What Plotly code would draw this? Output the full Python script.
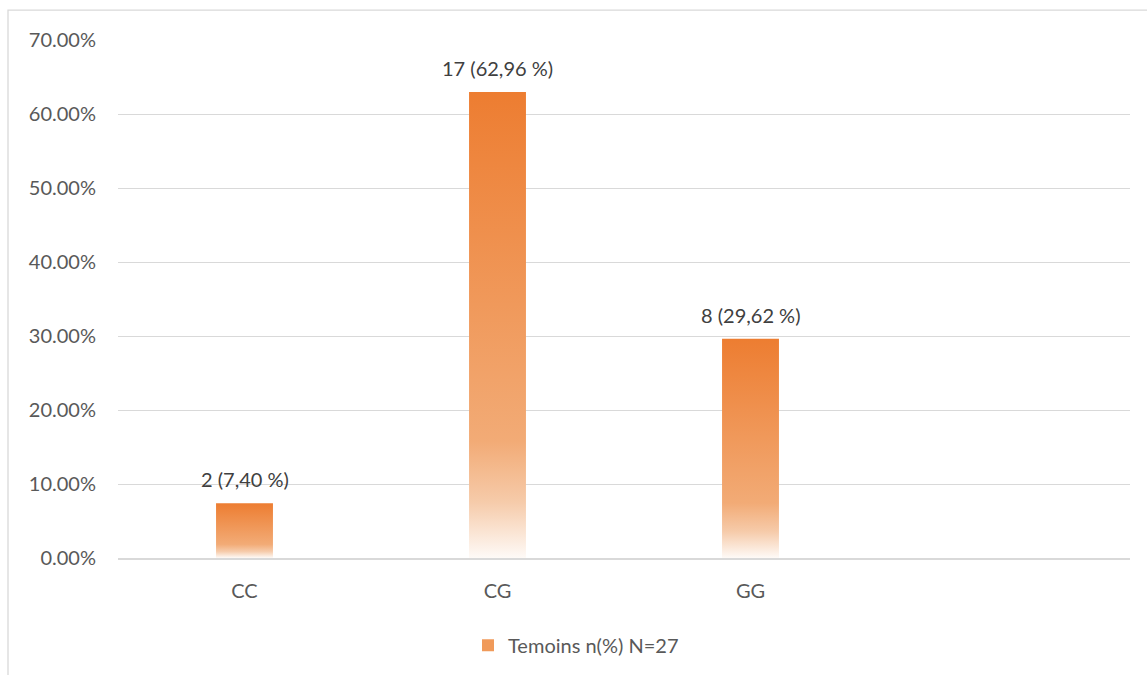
import plotly.graph_objects as go

# Genotype distribution in the control group
genotypes = ["CC", "CG", "GG"]
counts = [2, 17, 8]
percents = [7.40, 62.96, 29.62]
percent_labels = ["7,40", "62,96", "29,62"]
series_name = "Temoins n(%) N=27"

y_ticks = [0, 0.1, 0.2, 0.3, 0.4, 0.5, 0.6, 0.7]

FONT = "Lato, Carlito, Calibri, sans-serif"
ORANGE = "#ED7D31"
GRID = "#D9D9D9"
BAR_WIDTH = 0.225
FS = 20

# Vertical gradient: pale at the base, full orange at the top
gradient = [
    [0.0, "#FEFAF7"],
    [0.12, "#F6CBAA"],
    [0.25, "#F2AB76"],
    [1.0, ORANGE],
]

fig = go.Figure()

# Legend entry for the series (zero-height bar, only the legend swatch shows)
fig.add_trace(go.Bar(
    x=[0], y=[0],
    name=series_name,
    marker=dict(color="#F09A5A", line=dict(width=0)),
    hoverinfo="skip",
    showlegend=True,
))

for i, (g, pct) in enumerate(zip(genotypes, percents)):
    v = pct / 100
    x0, x1 = i - BAR_WIDTH / 2, i + BAR_WIDTH / 2
    fig.add_trace(go.Scatter(
        x=[x0, x1, x1, x0, x0],
        y=[0, 0, v, v, 0],
        mode="lines",
        line=dict(width=0, color=ORANGE),
        fill="toself",
        fillcolor=ORANGE,
        fillgradient=dict(type="vertical", colorscale=gradient),
        name=series_name,
        showlegend=False,
        hoverinfo="skip",
    ))

# Value labels above each bar
annotations = [
    dict(
        x=i, y=pct / 100, xref="x", yref="y",
        text=f"{c} ({lbl} %)",
        showarrow=False,
        yanchor="bottom",
        yshift=10,
        font=dict(family=FONT, size=FS, color="#404040"),
    )
    for i, (c, pct, lbl) in enumerate(zip(counts, percents, percent_labels))
]

fig.update_layout(
    width=1147,
    height=675,
    margin=dict(l=118, r=17, t=40, b=116),
    paper_bgcolor="white",
    plot_bgcolor="white",
    font=dict(family=FONT, size=FS, color="#595959"),
    annotations=annotations,
    xaxis=dict(
        range=[-0.5, 3.5],
        tickmode="array",
        tickvals=list(range(len(genotypes))),
        ticktext=genotypes,
        showgrid=False,
        zeroline=False,
        showline=True,
        linecolor=GRID,
        linewidth=1.5,
        ticks="outside",
        ticklen=14,
        tickcolor="rgba(0,0,0,0)",
        tickfont=dict(family=FONT, size=FS, color="#595959"),
        fixedrange=True,
    ),
    yaxis=dict(
        range=[0, 0.7],
        tickmode="array",
        tickvals=y_ticks,
        tickformat=".2%",
        showgrid=True,
        gridcolor=GRID,
        gridwidth=1.3,
        zeroline=False,
        showline=False,
        ticks="outside",
        ticklen=17,
        tickcolor="rgba(0,0,0,0)",
        tickfont=dict(family=FONT, size=FS, color="#595959"),
        fixedrange=True,
    ),
    legend=dict(
        orientation="h",
        x=(468 - 118) / 1012,
        xanchor="left",
        y=-0.166,
        yanchor="middle",
        font=dict(family=FONT, size=FS, color="#595959"),
        bgcolor="rgba(0,0,0,0)",
    ),
    shapes=[
        # chart-area border
        dict(
            type="rect",
            xref="paper", yref="paper",
            x0=(8 - 118) / 1012, x1=1.05,
            y0=-0.5, y1=(559 - 10) / 519,
            line=dict(color=GRID, width=1.3),
            fillcolor="rgba(0,0,0,0)",
            layer="below",
        )
    ],
)

fig.write_html("out.html")
